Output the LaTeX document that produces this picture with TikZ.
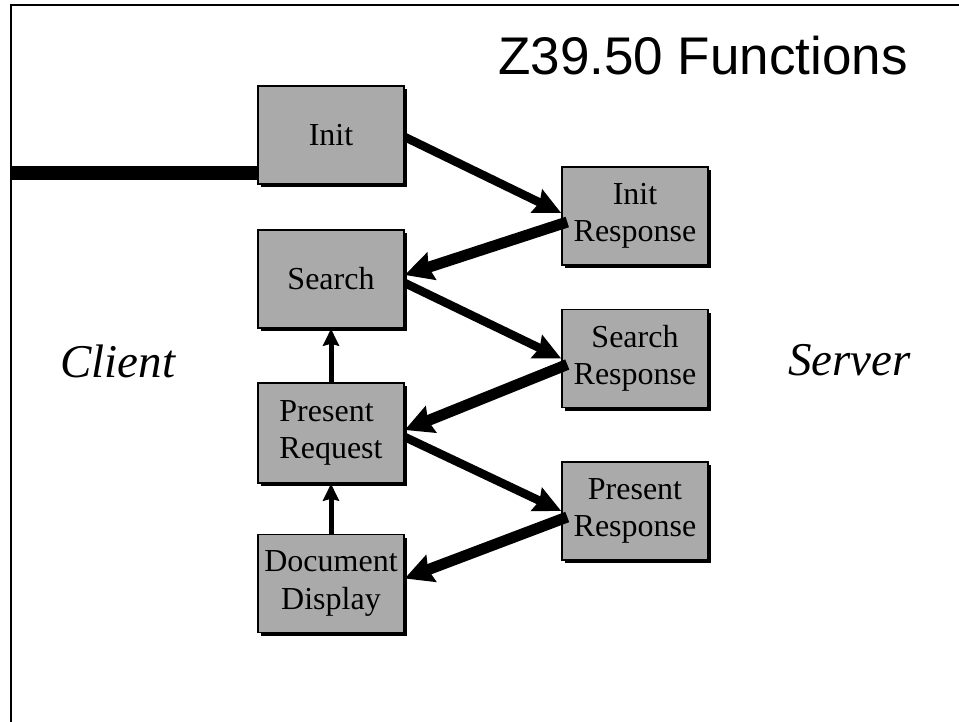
\documentclass[tikz,border=0pt]{standalone}
\usepackage{fontspec}
\setmainfont{Liberation Serif}
\newfontfamily\titlefont{Liberation Sans}
\usetikzlibrary{arrows.meta,shadows,calc}
\definecolor{boxgray}{RGB}{170,170,170}
\begin{document}
\begin{tikzpicture}[x=1pt,y=-1pt,
  fnbox/.style={draw=black, line width=1.5pt, fill=boxgray,
    minimum width=146pt, minimum height=98pt, inner sep=0pt, align=center,
    font=\fontsize{32}{37.5}\selectfont,
    drop shadow={shadow xshift=3pt, shadow yshift=-3pt, fill=black, opacity=1}},
  sidelabel/.style={anchor=base west, inner sep=0pt, font=\fontsize{47}{56}\selectfont\itshape},
  outarrow/.style={line width=8.5pt, -{Stealth[length=27pt,width=25pt,inset=3pt]}},
  retarrow/.style={line width=11pt, -{Stealth[length=28pt,width=28pt,inset=3pt]}},
  uparrow/.style={line width=5pt, -{Stealth[length=17pt,width=16pt,inset=2pt]}}]
\useasboundingbox (0,0) rectangle (959,722);

% frame edges
\draw[line width=2pt] (11,722) -- (11,5) -- (959,5);

% title and side labels
\node[anchor=base west, inner sep=0pt, font=\titlefont\fontsize{53}{60}\selectfont] (title) at (498,75) {Z39.50 Functions};
\node[sidelabel] (client) at (60,377) {Client};
\node[sidelabel] (server) at (788,375) {Server};

% client side requests
\node[fnbox] (init) at (331,135) {Init};
\node[fnbox] (search) at (331,279) {Search};
\node[fnbox, align=left, minimum height=100pt] (preq) at (331,433) {Present\\Request};
\node[fnbox] (docdisp) at (331,583.5) {Document\\Display};

% server side responses
\node[fnbox] (initresp) at (635,216) {Init\\Response};
\node[fnbox] (searchresp) at (635,358.5) {Search\\Response};
\node[fnbox] (presresp) at (635,511) {Present\\Response};

% connection bar into Init
\coordinate (lf) at (11,173);
\draw[line width=14pt] (lf) -- (lf -| init.west);

% request / response flow
\draw[outarrow] ([shift={(0,2)}]init.east) -- ([shift={(0,-3)}]initresp.west);
\draw[retarrow] ([shift={(6,6)}]initresp.west) -- ([shift={(0,-4)}]search.east);
\draw[outarrow] ([shift={(0,4)}]search.east) -- (searchresp.west);
\draw[retarrow] ([shift={(6,6)}]searchresp.west) -- ([shift={(0,-3)}]preq.east);
\draw[outarrow] ([shift={(0,4)}]preq.east) -- (presresp.west);
\draw[retarrow] ([shift={(6,6)}]presresp.west) -- ([shift={(0,-5)}]docdisp.east);

% local steps
\draw[uparrow] (preq.north) -- (search.south);
\draw[uparrow] (docdisp.north) -- (preq.south);
\end{tikzpicture}
\end{document}
